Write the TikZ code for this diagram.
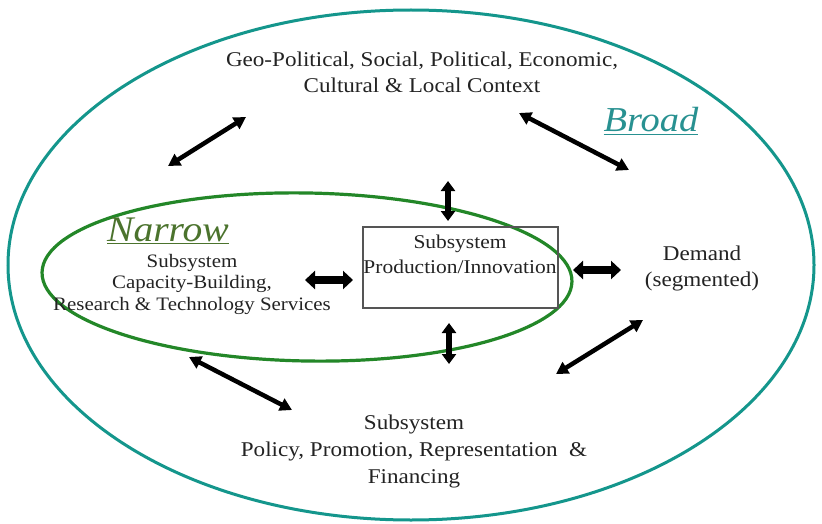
\documentclass[tikz,border=0pt]{standalone}
\usepackage{fontspec}
\setmainfont[FakeStretch=1.1]{Liberation Serif}
\usetikzlibrary{arrows.meta}
\definecolor{broadteal}{RGB}{20,150,140}
\definecolor{narrowgreen}{RGB}{35,135,40}
\definecolor{narrowlabel}{RGB}{75,115,45}
\definecolor{broadlabel}{RGB}{40,145,145}
\definecolor{boxgray}{RGB}{85,85,85}
\definecolor{inkgray}{RGB}{35,35,35}
\begin{document}
\begin{tikzpicture}[x=1pt,y=-1pt,
  lbl/.style={align=center, inner sep=0pt, text=inkgray, font=\fontsize{21}{26}\selectfont},
  tag/.style={inner sep=0pt, font=\fontsize{35}{38}\selectfont\itshape},
  diag/.style={line width=4.5pt, {Triangle[width=13pt,length=12pt]}-{Triangle[width=13pt,length=12pt]}},
  vert/.style={line width=5.5pt, {Triangle[width=14pt,length=10pt]}-{Triangle[width=14pt,length=10pt]}},
  horiz/.style={line width=8pt, {Triangle[width=18pt,length=10pt]}-{Triangle[width=18pt,length=10pt]}}]
\useasboundingbox (0,0) rectangle (822,524);
\fill[white] (0,0) rectangle (822,524);

% broad system and narrow system boundaries
\draw[broadteal, line width=3pt] (411,265) ellipse [x radius=403, y radius=255];
\draw[narrowgreen, line width=3.2pt, rotate around={-1:(307,277)}] (307,277) ellipse [x radius=265, y radius=84];

% production subsystem box
\node[draw=boxgray, line width=2pt, minimum width=195pt, minimum height=81pt] (prod) at (460.5,267.5) {};
\node[lbl, font=\fontsize{19.5}{25}\selectfont] (prodtext) at (460,254) {Subsystem\\Production/Innovation};

% labels
\node[lbl] (context) at (422,72) {Geo-Political, Social, Political, Economic,\\Cultural \& Local Context};
\node[lbl, font=\fontsize{19}{21.5}\selectfont] (capacity) at (192,284) {Subsystem\\Capacity-Building,\\Research \& Technology Services};
\node[lbl] (demand) at (702,268) {Demand\\(segmented)};
\node[lbl, font=\fontsize{21}{27}\selectfont] (policy) at (414,451) {Subsystem\\Policy, Promotion, Representation~~\&\\Financing};
\node[tag, text=narrowlabel, font=\fontsize{36}{38}\selectfont\itshape] (narrow) at (168,231) {\underline{Narrow}};
\node[tag, text=broadlabel] (broad) at (651,121) {\underline{Broad}};

% arrow end points
\coordinate (ul1) at (168,166); \coordinate (ul2) at (246,117);
\coordinate (ur1) at (519,113); \coordinate (ur2) at (629,170);
\coordinate (vt1) at (448,181); \coordinate (vt2) at (448,221);
\coordinate (vb1) at (449,323); \coordinate (vb2) at (449,364);
\coordinate (hl1) at (305,280); \coordinate (hl2) at (353,280);
\coordinate (hr1) at (573,270); \coordinate (hr2) at (621,270);
\coordinate (lr1) at (556,374); \coordinate (lr2) at (643,320);
\coordinate (ll1) at (189,357); \coordinate (ll2) at (292,410);

% interactions between subsystems
\draw[diag] (ul1) -- (ul2);
\draw[diag] (ur1) -- (ur2);
\draw[vert] (vt1) -- (vt2);
\draw[vert] (vb1) -- (vb2);
\draw[horiz] (hl1) -- (hl2);
\draw[horiz] (hr1) -- (hr2);
\draw[diag] (lr1) -- (lr2);
\draw[diag] (ll1) -- (ll2);
\end{tikzpicture}
\end{document}
